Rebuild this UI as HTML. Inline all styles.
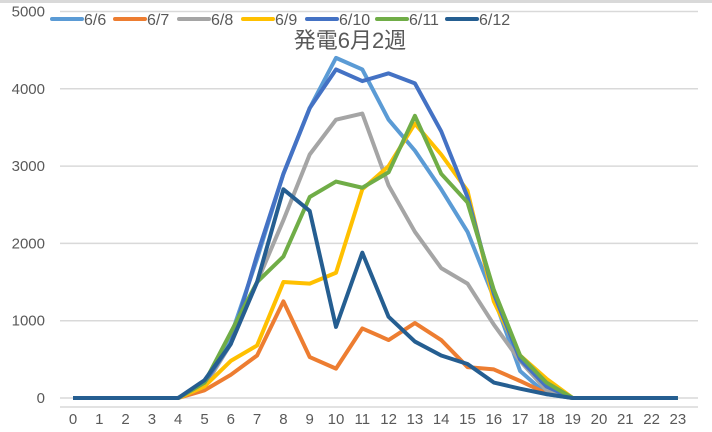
<!DOCTYPE html><html><head><meta charset="utf-8"><style>body{margin:0;background:#fff}svg{display:block}</style></head><body>
<svg id="c" width="712" height="432" xmlns="http://www.w3.org/2000/svg" font-family="Liberation Sans, Noto Sans CJK JP, sans-serif">
<rect x="0" y="0" width="712" height="432" fill="#fff"/>
<rect x="0" y="0" width="712" height="3" fill="#d9d9d9"/>
<g id="g"></g>
<text x="350" y="48" font-size="22" fill="#595959" text-anchor="middle" font-family="Liberation Sans, Noto Sans CJK JP, sans-serif">発電6月2週</text>
</svg>
<script>
var s=document.getElementById('g'),ns='http://www.w3.org/2000/svg',h='';
function Y(v){return 398-v*0.0773}function X(i){return 73+i*26.3}
for(var k=0;k<=5;k++){var y=Y(k*1000);h+='<line x1="60" x2="698" y1="'+y+'" y2="'+y+'" stroke="#d9d9d9" stroke-width="1.5"/>';h+='<text x="45" y="'+(y+5)+'" font-size="15" fill="#595959" text-anchor="end">'+(k*1000)+'</text>';}
h+='<line x1="60" x2="698" y1="407" y2="407" stroke="#d9d9d9" stroke-width="1.5"/>';
for(var i=0;i<24;i++)h+='<text x="'+X(i)+'" y="424" font-size="15" fill="#595959" text-anchor="middle">'+i+'</text>';
var z=[0,0,0,0,0];
var D=[
['#5b9bd5','6/6',[150,800,1800,2900,3750,4400,4250,3600,3200,2700,2150,1300,350,50]],
['#ed7d31','6/7',[100,300,550,1250,530,380,900,750,970,750,400,370,220,60]],
['#a5a5a5','6/8',[150,700,1500,2300,3150,3600,3680,2750,2150,1680,1480,950,480,100]],
['#ffc000','6/9',[150,480,680,1500,1480,1620,2700,3000,3550,3150,2680,1250,550,250]],
['#4472c4','6/10',[200,700,1850,2900,3750,4250,4100,4200,4070,3450,2600,1350,500,150]],
['#70ad47','6/11',[200,850,1500,1830,2600,2800,2720,2920,3650,2900,2530,1400,550,200]],
['#255e91','6/12',[230,700,1500,2700,2420,920,1880,1050,730,550,440,200,120,50]]];
var lx=[52,115,179,243,307,377,447];
D.forEach(function(d,j){var v=z.concat(d[2],[0,0,0,0,0]);var p=v.map(function(a,i){return X(i)+','+Y(a)}).join(' ');
h+='<polyline points="'+p+'" fill="none" stroke="'+d[0]+'" stroke-width="4" stroke-linejoin="round"/>';
h+='<line x1="'+lx[j]+'" x2="'+(lx[j]+30)+'" y1="19" y2="19" stroke="'+d[0]+'" stroke-width="4" stroke-linecap="round"/>';
h+='<text x="'+(lx[j]+32)+'" y="25" font-size="16" fill="#595959">'+d[1]+'</text>';});
s.innerHTML=h;
</script>
</body></html>
